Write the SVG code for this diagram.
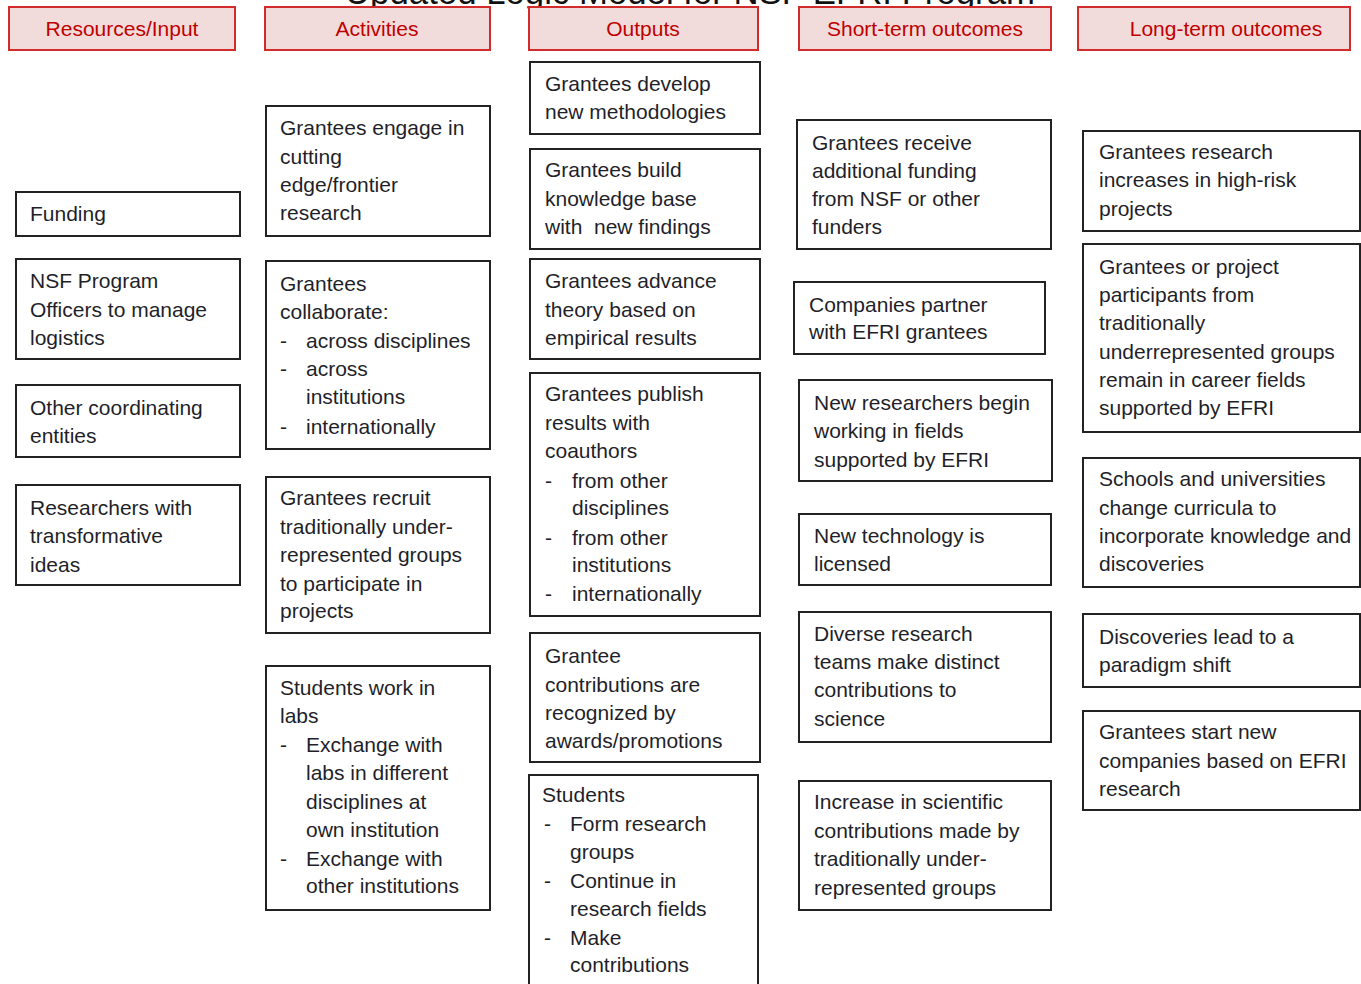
<svg xmlns="http://www.w3.org/2000/svg" width="1361" height="984" viewBox="0 0 1361 984">
<style>
.hdr rect{fill:#f2dcdb;stroke:#d22b2b;stroke-width:2}
.hdr text{fill:#c00000;font-family:"Liberation Sans",Arial,sans-serif;font-size:21px;text-anchor:middle}
.node rect{fill:#ffffff;stroke:#222222;stroke-width:2}
.node text{fill:#1f1f2a;font-family:"Liberation Sans",Arial,sans-serif;font-size:21px}
.title{fill:#111111;font-family:"Liberation Sans",Arial,sans-serif;font-size:35px}
</style>
<rect width="1361" height="984" fill="#ffffff"/>
<text class="title" x="345" y="4" textLength="690" lengthAdjust="spacingAndGlyphs">Updated Logic Model for NSF EFRI Program</text>

<g id="headers">
<g id="h-resources" class="hdr"><rect x="9" y="7" width="226" height="43"/><text x="122" y="36">Resources/Input</text></g>
<g id="h-activities" class="hdr"><rect x="265" y="7" width="225" height="43"/><text x="377" y="36">Activities</text></g>
<g id="h-outputs" class="hdr"><rect x="529" y="7" width="229" height="43"/><text x="643" y="36">Outputs</text></g>
<g id="h-short" class="hdr"><rect x="799" y="7" width="252" height="43"/><text x="925" y="36">Short-term outcomes</text></g>
<g id="h-long" class="hdr"><rect x="1078" y="7" width="272" height="43"/><text x="1226" y="36">Long-term outcomes</text></g>
</g>

<g id="connectors"></g>

<!-- Resources -->
<g id="r-funding" class="node"><rect x="16" y="192" width="224" height="44"/><text x="30" y="221">Funding</text></g>
<g id="r-nsf" class="node"><rect x="16" y="259" width="224" height="100"/><text><tspan x="30" y="288">NSF Program</tspan><tspan x="30" y="317">Officers to manage</tspan><tspan x="30" y="345">logistics</tspan></text></g>
<g id="r-other" class="node"><rect x="16" y="385" width="224" height="72"/><text><tspan x="30" y="415">Other coordinating</tspan><tspan x="30" y="443">entities</tspan></text></g>
<g id="r-researchers" class="node"><rect x="16" y="485" width="224" height="100"/><text><tspan x="30" y="515">Researchers with</tspan><tspan x="30" y="543">transformative</tspan><tspan x="30" y="572">ideas</tspan></text></g>

<!-- Activities -->
<g id="a-engage" class="node"><rect x="266" y="106" width="224" height="130"/><text><tspan x="280" y="135">Grantees engage in</tspan><tspan x="280" y="164">cutting</tspan><tspan x="280" y="192">edge/frontier</tspan><tspan x="280" y="220">research</tspan></text></g>
<g id="a-collaborate" class="node"><rect x="266" y="261" width="224" height="188"/><text><tspan x="280" y="291">Grantees</tspan><tspan x="280" y="319">collaborate:</tspan><tspan x="280" y="348">-</tspan><tspan x="306" y="348">across disciplines</tspan><tspan x="280" y="376">-</tspan><tspan x="306" y="376">across</tspan><tspan x="306" y="404">institutions</tspan><tspan x="280" y="434">-</tspan><tspan x="306" y="434">internationally</tspan></text></g>
<g id="a-recruit" class="node"><rect x="266" y="477" width="224" height="156"/><text><tspan x="280" y="505">Grantees recruit</tspan><tspan x="280" y="534">traditionally under-</tspan><tspan x="280" y="562">represented groups</tspan><tspan x="280" y="591">to participate in</tspan><tspan x="280" y="618">projects</tspan></text></g>
<g id="a-students" class="node"><rect x="266" y="666" width="224" height="244"/><text><tspan x="280" y="695">Students work in</tspan><tspan x="280" y="723">labs</tspan><tspan x="280" y="752">-</tspan><tspan x="306" y="752">Exchange with</tspan><tspan x="306" y="780">labs in different</tspan><tspan x="306" y="809">disciplines at</tspan><tspan x="306" y="837">own institution</tspan><tspan x="280" y="866">-</tspan><tspan x="306" y="866">Exchange with</tspan><tspan x="306" y="893">other institutions</tspan></text></g>

<!-- Outputs -->
<g id="o-methods" class="node"><rect x="530" y="62" width="230" height="72"/><text><tspan x="545" y="91">Grantees develop</tspan><tspan x="545" y="119">new methodologies</tspan></text></g>
<g id="o-knowledge" class="node"><rect x="530" y="149" width="230" height="100"/><text><tspan x="545" y="177">Grantees build</tspan><tspan x="545" y="206">knowledge base</tspan><tspan x="545" y="234" xml:space="preserve">with  new findings</tspan></text></g>
<g id="o-theory" class="node"><rect x="530" y="259" width="230" height="100"/><text><tspan x="545" y="288">Grantees advance</tspan><tspan x="545" y="317">theory based on</tspan><tspan x="545" y="345">empirical results</tspan></text></g>
<g id="o-publish" class="node"><rect x="530" y="373" width="230" height="243"/><text><tspan x="545" y="401">Grantees publish</tspan><tspan x="545" y="430">results with</tspan><tspan x="545" y="458">coauthors</tspan><tspan x="545" y="488">-</tspan><tspan x="572" y="488">from other</tspan><tspan x="572" y="515">disciplines</tspan><tspan x="545" y="545">-</tspan><tspan x="572" y="545">from other</tspan><tspan x="572" y="572">institutions</tspan><tspan x="545" y="601">-</tspan><tspan x="572" y="601">internationally</tspan></text></g>
<g id="o-awards" class="node"><rect x="530" y="633" width="230" height="129"/><text><tspan x="545" y="663">Grantee</tspan><tspan x="545" y="692">contributions are</tspan><tspan x="545" y="720">recognized by</tspan><tspan x="545" y="748">awards/promotions</tspan></text></g>
<g id="o-students" class="node"><rect x="529" y="775" width="229" height="220"/><text><tspan x="542" y="802">Students</tspan><tspan x="544" y="831">-</tspan><tspan x="570" y="831">Form research</tspan><tspan x="570" y="859">groups</tspan><tspan x="544" y="888">-</tspan><tspan x="570" y="888">Continue in</tspan><tspan x="570" y="916">research fields</tspan><tspan x="544" y="945">-</tspan><tspan x="570" y="945">Make</tspan><tspan x="570" y="972">contributions</tspan></text></g>

<!-- Short-term outcomes -->
<g id="s-funding" class="node"><rect x="797" y="120" width="254" height="129"/><text><tspan x="812" y="150">Grantees receive</tspan><tspan x="812" y="178">additional funding</tspan><tspan x="812" y="206">from NSF or other</tspan><tspan x="812" y="234">funders</tspan></text></g>
<g id="s-companies" class="node"><rect x="794" y="282" width="251" height="72"/><text><tspan x="809" y="312">Companies partner</tspan><tspan x="809" y="339">with EFRI grantees</tspan></text></g>
<g id="s-newresearchers" class="node"><rect x="799" y="380" width="253" height="101"/><text><tspan x="814" y="410">New researchers begin</tspan><tspan x="814" y="438">working in fields</tspan><tspan x="814" y="467">supported by EFRI</tspan></text></g>
<g id="s-technology" class="node"><rect x="799" y="514" width="252" height="71"/><text><tspan x="814" y="543">New technology is</tspan><tspan x="814" y="571">licensed</tspan></text></g>
<g id="s-diverse" class="node"><rect x="799" y="612" width="252" height="130"/><text><tspan x="814" y="641">Diverse research</tspan><tspan x="814" y="669">teams make distinct</tspan><tspan x="814" y="697">contributions to</tspan><tspan x="814" y="726">science</tspan></text></g>
<g id="s-increase" class="node"><rect x="799" y="781" width="252" height="129"/><text><tspan x="814" y="809">Increase in scientific</tspan><tspan x="814" y="838">contributions made by</tspan><tspan x="814" y="866">traditionally under-</tspan><tspan x="814" y="895">represented groups</tspan></text></g>

<!-- Long-term outcomes -->
<g id="l-highrisk" class="node"><rect x="1083" y="131" width="277" height="100"/><text><tspan x="1099" y="159">Grantees research</tspan><tspan x="1099" y="187">increases in high-risk</tspan><tspan x="1099" y="216">projects</tspan></text></g>
<g id="l-remain" class="node"><rect x="1083" y="244" width="277" height="188"/><text><tspan x="1099" y="274">Grantees or project</tspan><tspan x="1099" y="302">participants from</tspan><tspan x="1099" y="330">traditionally</tspan><tspan x="1099" y="359">underrepresented groups</tspan><tspan x="1099" y="387">remain in career fields</tspan><tspan x="1099" y="415">supported by EFRI</tspan></text></g>
<g id="l-curricula" class="node"><rect x="1083" y="458" width="277" height="129"/><text><tspan x="1099" y="486">Schools and universities</tspan><tspan x="1099" y="515">change curricula to</tspan><tspan x="1099" y="543">incorporate knowledge and</tspan><tspan x="1099" y="571">discoveries</tspan></text></g>
<g id="l-paradigm" class="node"><rect x="1083" y="614" width="277" height="73"/><text><tspan x="1099" y="644">Discoveries lead to a</tspan><tspan x="1099" y="672">paradigm shift</tspan></text></g>
<g id="l-companies" class="node"><rect x="1083" y="711" width="277" height="99"/><text><tspan x="1099" y="739">Grantees start new</tspan><tspan x="1099" y="768">companies based on EFRI</tspan><tspan x="1099" y="796">research</tspan></text></g>
</svg>
